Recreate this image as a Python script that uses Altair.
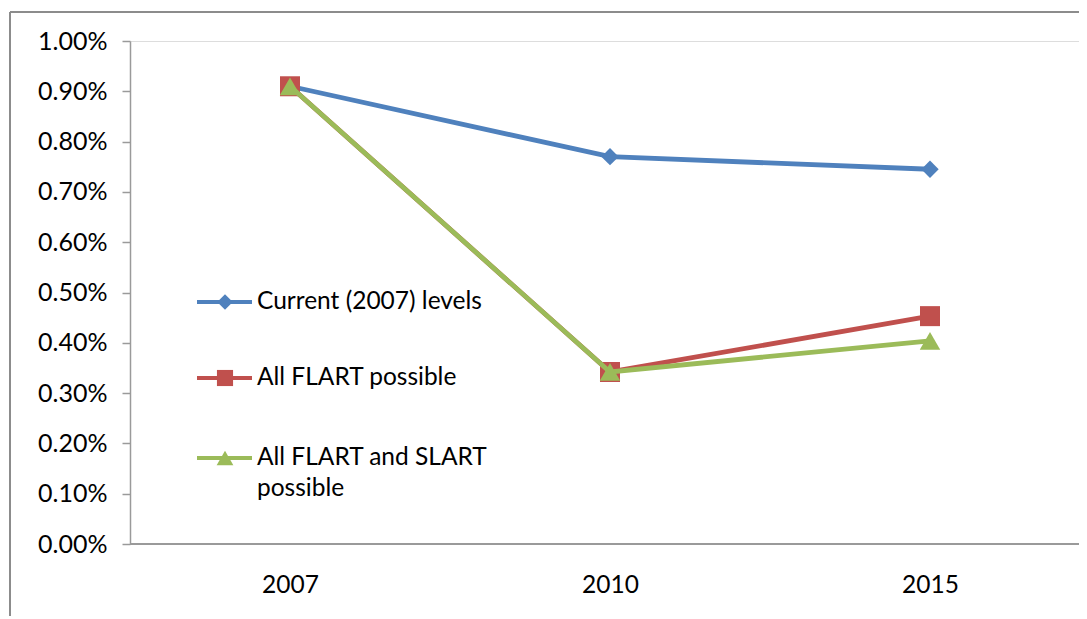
import altair as alt
import pandas as pd

years = ["2007", "2010", "2015"]
series = ["Current (2007) levels", "All FLART possible", "All FLART and SLART possible"]
current_vals = [0.0091, 0.0077, 0.00745]
flart_vals = [0.0091, 0.00342, 0.00453]
slart_vals = [0.0091, 0.00342, 0.00404]
y_ticks = [0.0, 0.001, 0.002, 0.003, 0.004, 0.005, 0.006, 0.007, 0.008, 0.009, 0.010]

colors = ["#4F81BD", "#C0504D", "#9BBB59"]
shapes = ["diamond", "square", "triangle-up"]
sizes = [300, 400, 420]
legend_sizes = [240, 260, 280]

rows = []
for s, vals in zip(series, [current_vals, flart_vals, slart_vals]):
    for y, v in zip(years, vals):
        rows.append({"year": y, "series": s, "value": v})
df = pd.DataFrame(rows)

FONT = "Lato"
W, H = 949, 503

x_enc = alt.X("year:N", sort=years, title=None,
              scale=alt.Scale(type="point", range=[160, 800], padding=0),
              axis=alt.Axis(labelAngle=0, ticks=False, domain=False, labelPadding=29,
                            labelFontSize=24.5, labelFont=FONT, labelColor="#000",
                            grid=False))
y_enc = alt.Y("value:Q", title=None,
              scale=alt.Scale(domain=[0, 0.01], nice=False),
              axis=alt.Axis(values=y_ticks, format=".2%", tickSize=8, labelPadding=15,
                            labelFontSize=25, labelFont=FONT, labelColor="#000",
                            domainColor="#9a9a9a", domainWidth=1.5, tickColor="#9a9a9a",
                            tickWidth=1.5, grid=False))

layers = []
# frame
layers.append(alt.Chart(df).mark_rule(color="#8c8c8c", strokeWidth=2).encode(
    x=alt.value(-120), x2=alt.value(-120), y=alt.value(-29), y2=alt.value(600)))
layers.append(alt.Chart(df).mark_rule(color="#8c8c8c", strokeWidth=2).encode(
    x=alt.value(-120), x2=alt.value(960), y=alt.value(-29), y2=alt.value(-29)))
# x axis line
layers.append(alt.Chart(df).mark_rule(color="#9a9a9a", strokeWidth=1.5).encode(
    x=alt.value(0), x2=alt.value(W), y=alt.value(H), y2=alt.value(H)))

for i, s in enumerate(series):
    base = alt.Chart(df).transform_filter(alt.datum.series == s)
    layers.append(base.mark_line(color=colors[i], strokeWidth=4.8).encode(x=x_enc, y=y_enc))
    layers.append(base.mark_point(color=colors[i], filled=True, opacity=1,
                                  shape=shapes[i], size=sizes[i]).encode(x=x_enc, y=y_enc))

# manual legend (inside plot, left)
leg_y = [261, 337, 417]
for i, s in enumerate(series):
    one = pd.DataFrame({"series": [s]})
    layers.append(alt.Chart(one).mark_rule(color=colors[i], strokeWidth=4).encode(
        x=alt.value(67), x2=alt.value(122), y=alt.value(leg_y[i]), y2=alt.value(leg_y[i])))
    layers.append(alt.Chart(one).mark_point(color=colors[i], filled=True, opacity=1,
                                            shape=shapes[i], size=legend_sizes[i]).encode(
        x=alt.value(95), y=alt.value(leg_y[i])))
    label = s if i < 2 else ["All FLART and SLART", "possible"]
    layers.append(alt.Chart(one).mark_text(text=label, align="left", baseline="middle",
                                           font=FONT, fontSize=24.5, color="#000",
                                           lineHeight=31).encode(
        x=alt.value(127), y=alt.value(leg_y[i])))

chart = alt.layer(*layers).properties(
    width=W, height=H,
    autosize=alt.AutoSizeParams(type="none"),
    padding={"left": 122, "top": 33, "right": 0, "bottom": 72},
).configure_view(stroke=None).configure(background="white")

chart.save("out.html", embed_options={"renderer": "svg", "actions": False})
